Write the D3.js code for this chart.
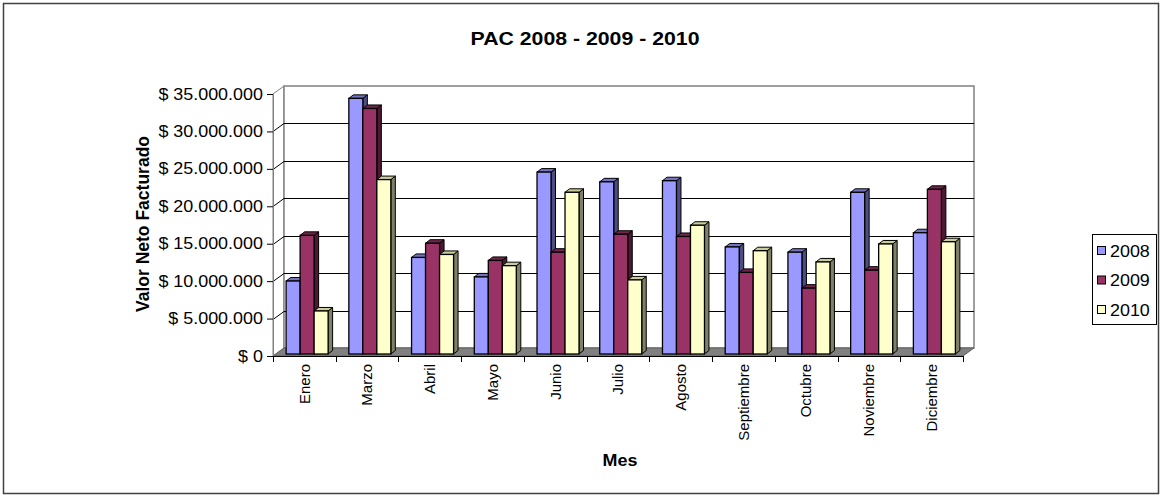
<!DOCTYPE html>
<html>
<head>
<meta charset="utf-8">
<script src="https://cdn.jsdelivr.net/npm/d3@7"></script>
<style>
  body { margin: 0; background: #fff; }
  text { font-family: Arial, "Liberation Sans", sans-serif; fill: #000; }
</style>
</head>
<body>
<svg id="chart" width="1162" height="496"></svg>
<script>
// data (valor neto facturado, pesos)
var months = ["Enero", "Marzo", "Abril", "Mayo", "Junio", "Julio", "Agosto", "Septiembre", "Octubre", "Noviembre", "Diciembre"];
var years = ["2008", "2009", "2010"];
var v2008 = [9750000, 34150000, 12900000, 10300000, 24300000, 23000000, 23150000, 14300000, 13600000, 21600000, 16200000];
var v2009 = [15850000, 32800000, 14800000, 12500000, 13600000, 16000000, 15700000, 10900000, 8800000, 11200000, 22000000];
var v2010 = [5750000, 23300000, 13300000, 11800000, 21600000, 9900000, 17200000, 13800000, 12300000, 14700000, 15000000];
var yTicks = [0, 5000000, 10000000, 15000000, 20000000, 25000000, 30000000, 35000000];

var series = [v2008, v2009, v2010];
var fills = {
  front: ["#9999ff", "#993366", "#ffffcc"],
  top:   ["#7373c0", "#73264d", "#cccc99"],
  side:  ["#4d4d80", "#4d1a33", "#808066"]
};

var svg = d3.select("#chart");

// front plane of the plot and depth of the walls
var left = 273, right = 963, base = 356, topY = 94;
var depth = {x: 11, y: -8};      // back wall offset
var barOff = {x: 2.75, y: -2};   // bar front face offset
var barDepth = {x: 4.5, y: -3.5};
var stretch = 1.12;              // the original text is a bit wide

var y = d3.scaleLinear().domain([0, 35000000]).range([base, topY]);
var x = d3.scaleBand().domain(months).range([left, right]);
var xi = d3.scaleBand().domain(years).range([0, x.bandwidth()]).paddingOuter(0.74);

var es = d3.formatLocale({decimal: ",", thousands: ".", grouping: [3], currency: ["$ ", ""]});
var fmt = es.format("$,");

// outer border
svg.append("rect")
  .attr("x", 3.5).attr("y", 3.5).attr("width", 1155).attr("height", 490)
  .attr("fill", "#fff").attr("stroke", "#404040").attr("stroke-width", 1.5);

// walls
var wall = svg.append("g");
wall.append("path")
  .attr("d", "M" + left + "," + y(35000000) + "L" + (left + depth.x) + "," + (y(35000000) + depth.y) +
    "L" + (left + depth.x) + "," + (base + depth.y) + "L" + left + "," + base + "Z")
  .attr("fill", "#fff").attr("stroke", "#808080");
wall.append("rect")
  .attr("x", left + depth.x).attr("y", y(35000000) + depth.y)
  .attr("width", right - left).attr("height", base - y(35000000))
  .attr("fill", "#fff").attr("stroke", "#808080").attr("stroke-width", 1.5);

// gridlines on back wall and side wall
wall.selectAll(".grid").data(yTicks.slice(1, -1)).enter().append("path")
  .attr("class", "grid")
  .attr("d", function(d) {
    var yy = Math.round(y(d)) + 0.5;
    return "M" + left + "," + yy + "L" + (left + depth.x) + "," + (yy + depth.y) +
      "L" + (right + depth.x) + "," + (yy + depth.y);
  })
  .attr("fill", "none").attr("stroke", "#000").attr("stroke-width", 1);

// floor
wall.append("path")
  .attr("d", "M" + left + "," + base + "L" + (left + depth.x) + "," + (base + depth.y) +
    "L" + (right + depth.x) + "," + (base + depth.y) + "L" + right + "," + base + "Z")
  .attr("fill", "#808080").attr("stroke", "#606060");

// bars
var groups = svg.append("g").selectAll("g").data(months).enter().append("g");
groups.each(function(m, i) {
  var g = d3.select(this);
  years.forEach(function(yr, k) {
    var v = series[k][i];
    var x0 = x(m) + xi(yr) + barOff.x, w = xi.bandwidth();
    var yt = y(v) + barOff.y, yb = base + barOff.y;
    var dx = barDepth.x, dy = barDepth.y;
    g.append("path")
      .attr("d", "M" + (x0 + w) + "," + yt + "L" + (x0 + w + dx) + "," + (yt + dy) +
        "L" + (x0 + w + dx) + "," + (yb + dy) + "L" + (x0 + w) + "," + yb + "Z")
      .attr("fill", fills.side[k]).attr("stroke", "#000").attr("stroke-linejoin", "round");
    g.append("path")
      .attr("d", "M" + x0 + "," + yt + "L" + (x0 + dx) + "," + (yt + dy) +
        "L" + (x0 + w + dx) + "," + (yt + dy) + "L" + (x0 + w) + "," + yt + "Z")
      .attr("fill", fills.top[k]).attr("stroke", "#000").attr("stroke-linejoin", "round");
    g.append("rect")
      .attr("x", x0).attr("y", yt).attr("width", w).attr("height", yb - yt)
      .attr("fill", fills.front[k]).attr("stroke", "#000").attr("stroke-width", 1.3);
  });
});

// y axis on the front plane
var yAxis = d3.axisLeft(y).tickValues(yTicks).tickFormat(fmt).tickSize(6).tickSizeOuter(0).tickPadding(3);
var ga = svg.append("g").attr("transform", "translate(" + left + ",0)").call(yAxis);
ga.select(".domain").attr("stroke", "#808080");
ga.selectAll(".tick line").attr("stroke", "#000");
ga.selectAll(".tick text")
  .attr("font-size", 16).attr("font-family", "Arial, 'Liberation Sans', sans-serif")
  .attr("transform", "scale(" + stretch + ",1)");

// x axis: baseline and ticks at category boundaries
svg.append("line")
  .attr("x1", left).attr("x2", right).attr("y1", base + 0.5).attr("y2", base + 0.5)
  .attr("stroke", "#000");
svg.selectAll(".xtick").data(months.concat([null])).enter().append("line")
  .attr("class", "xtick")
  .attr("x1", function(d, i) { return Math.round(left + i * x.step()) + 0.5; })
  .attr("x2", function(d, i) { return Math.round(left + i * x.step()) + 0.5; })
  .attr("y1", base).attr("y2", base + 6)
  .attr("stroke", "#000");
svg.selectAll(".xlabel").data(months).enter().append("text")
  .attr("class", "xlabel")
  .attr("transform", function(d) { return "translate(" + (x(d) + x.bandwidth() / 2) + "," + (base + 8) + ") rotate(-90)"; })
  .attr("text-anchor", "end").attr("dy", "0.35em")
  .attr("font-size", 15)
  .text(function(d) { return d; });

// titles
svg.append("text").attr("transform", "translate(585,45) scale(" + stretch + ",1)").attr("text-anchor", "middle")
  .attr("font-size", 19).attr("font-weight", "bold").text("PAC 2008 - 2009 - 2010");
svg.append("text").attr("transform", "translate(149,224) rotate(-90)").attr("text-anchor", "middle")
  .attr("font-size", 17.5).attr("font-weight", "bold").text("Valor Neto Facturado");
svg.append("text").attr("transform", "translate(620,466) scale(" + stretch + ",1)").attr("text-anchor", "middle")
  .attr("font-size", 16).attr("font-weight", "bold").text("Mes");

// legend
var lg = svg.append("g");
lg.append("rect").attr("x", 1092.5).attr("y", 234.5).attr("width", 64).attr("height", 90)
  .attr("fill", "#fff").attr("stroke", "#000");
var items = lg.selectAll(".item").data(years).enter().append("g")
  .attr("transform", function(d, i) { return "translate(1097," + (251 + i * 29.5) + ")"; });
items.append("rect").attr("x", 0.5).attr("y", -4.5).attr("width", 8).attr("height", 8)
  .attr("fill", function(d, i) { return fills.front[i]; }).attr("stroke", "#000");
items.append("text").attr("transform", "translate(13,0) scale(" + stretch + ",1)").attr("dy", "0.35em")
  .attr("font-size", 16).text(function(d) { return d; });
</script>
</body>
</html>
